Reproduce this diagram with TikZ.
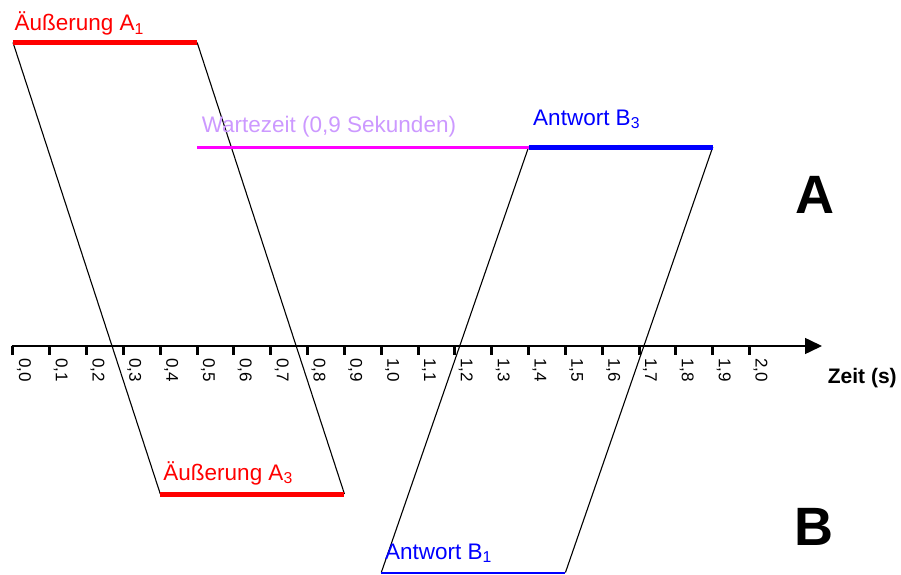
\documentclass[tikz,border=0pt]{standalone}
\usepackage{fontspec}
\setmainfont{Liberation Sans}
\usetikzlibrary{arrows.meta}
\definecolor{lila}{RGB}{204,153,255}
\definecolor{rot}{RGB}{255,0,0}
\definecolor{blau}{RGB}{0,0,255}
\definecolor{pink}{RGB}{255,0,255}
\tikzset{
    lbl/.style={anchor=base west,inner sep=0pt,font=\fontsize{22.5}{26}\selectfont},
    big/.style={anchor=base west,inner sep=0pt,font=\fontsize{54}{60}\selectfont\bfseries},
    slant/.style={black,line width=1.1pt}
}

\begin{document}
\begin{tikzpicture}[x=368.3pt,y=1pt]
            \useasboundingbox (-0.0353,-228) rectangle (2.4111,346);
            % time axis
            \draw[line width=1.5pt,-{Triangle[length=17pt,width=16pt]}] (-0.004,0)--(2.1966,0);
            \foreach \i in {0,...,20}{
                \pgfmathtruncatemacro\s{\i/10}
                \pgfmathtruncatemacro\d{\i-10*\s}
                \draw[line width=3pt] (\i/10,0)--(\i/10,-9);
                \node[rotate=-90,anchor=base west,inner sep=0pt,font=\fontsize{17}{20}\selectfont] (t\i) at (\i/10+0.0163,-12) {\s,\d};
            }
            \node[anchor=base west,inner sep=0pt,font=\fontsize{21}{25}\selectfont\bfseries] (zeit) at (2.212,-37) {Zeit (s)};
            % end points
            \coordinate (a1s) at (0,303.5);
            \coordinate (a1e) at (0.5,303.5);
            \coordinate (a3s) at (0.4,-148);
            \coordinate (a3e) at (0.9,-148);
            \coordinate (w) at (0.5,199);
            \coordinate (b3s) at (1.4,199);
            \coordinate (b3e) at (1.9,199);
            \coordinate (b1s) at (1.0,-226.5);
            \coordinate (b1e) at (1.5,-226.5);
            \draw[slant] (a1s)--(a3s);
            \draw[slant] (a1e)--(a3e);
            \draw[slant] (b1s)--(b3s);
            \draw[slant] (b1e)--(b3e);
            \draw[rot,line width=5pt] (a1s)--(a1e);
            \draw[rot,line width=5pt] (a3s)--(a3e);
            \draw[pink,line width=3pt] (w)--(b3s);
            \draw[blau,line width=5pt] (b3s)--(b3e);
            \draw[blau,line width=2pt] (b1s)--(b1e);
            % labels
            \node[lbl,rot] (la1) at (0.004,315) {Äußerung A\textsubscript{1}};
            \node[lbl,lila] (lw) at (0.512,214) {Wartezeit (0,9 Sekunden)};
            \node[lbl,blau] (lb3) at (1.412,221) {Antwort B\textsubscript{3}};
            \node[lbl,rot] (la3) at (0.408,-134) {Äußerung A\textsubscript{3}};
            \node[lbl,blau] (lb1) at (1.010,-213) {Antwort B\textsubscript{1}};
            \node[big] (A) at (2.123,133) {A};
            \node[big] (B) at (2.121,-199) {B};
\end{tikzpicture}
\end{document}
